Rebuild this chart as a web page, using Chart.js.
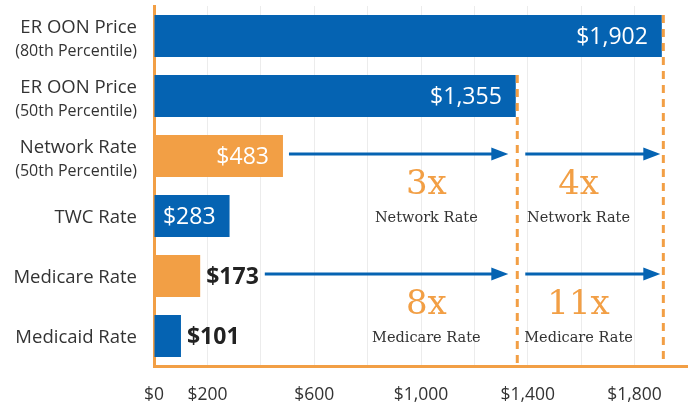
<!DOCTYPE html>
<html><head><meta charset="utf-8">
<script src="https://cdn.jsdelivr.net/npm/chart.js@4.4.1/dist/chart.umd.min.js"></script>
<style>html,body{margin:0;padding:0;background:#fff;}#wrap{width:688px;height:405px;position:relative;}</style>
</head><body><div id="wrap"><canvas id="c" width="688" height="405"></canvas></div>
<script>
// ---- data ----
const categories = [
  ["ER OON Price", "(80th Percentile)"],
  ["ER OON Price", "(50th Percentile)"],
  ["Network Rate", "(50th Percentile)"],
  ["TWC Rate"],
  ["Medicare Rate"],
  ["Medicaid Rate"]
];
const values = [1902, 1355, 483, 283, 173, 101];
const valueLabels = ["$1,902", "$1,355", "$483", "$283", "$173", "$101"];
const tickValues = [0, 200, 600, 1000, 1400, 1800];
const tickLabels = ["$0", "$200", "$600", "$1,000", "$1,400", "$1,800"];
// comparison baselines and multipliers (vs 50th percentile, vs 80th percentile)
const multiplierBases = ["Network Rate", "Medicare Rate"];
const multipliersVs50th = ["3x", "8x"];
const multipliersVs80th = ["4x", "11x"];
const multiplierCaptions = ["Network Rate", "Medicare Rate"];

// ---- styles ----
const BLUE = '#0563b2', ORANGE = '#f29f45', TEXT = '#333333';
const SANS = '"Open Sans", "Noto Sans", sans-serif';
const SLAB = '"DejaVu Serif", serif';

const rowName = i => categories[i][0];
const isBase = i => multiplierBases.includes(rowName(i));

function drawArrow(ctx, x1, x2, y) {
  ctx.save();
  ctx.strokeStyle = BLUE; ctx.fillStyle = BLUE; ctx.lineWidth = 3;
  ctx.beginPath(); ctx.moveTo(x1, y); ctx.lineTo(x2 - 12, y); ctx.stroke();
  ctx.beginPath(); ctx.moveTo(x2, y); ctx.lineTo(x2 - 17, y - 6.5); ctx.lineTo(x2 - 17, y + 6.5); ctx.closePath(); ctx.fill();
  ctx.restore();
}

const annotations = {
  id: 'annotations',
  afterDatasetsDraw(chart) {
    const ctx = chart.ctx, xs = chart.scales.x, area = chart.chartArea;
    const bars = chart.getDatasetMeta(0).data;
    const labelEnd = [];
    bars.forEach((b, i) => {
      ctx.save();
      ctx.textBaseline = 'middle';
      ctx.font = '400 23px ' + SANS;
      const w = ctx.measureText(valueLabels[i]).width;
      const barLen = b.x - b.base;
      if (barLen > w + 20) {
        ctx.fillStyle = '#ffffff'; ctx.textAlign = 'right';
        ctx.fillText(valueLabels[i], b.x - 14, b.y + 1);
        labelEnd[i] = b.x;
      } else {
        ctx.font = '700 23px ' + SANS;
        const wb = ctx.measureText(valueLabels[i]).width;
        ctx.fillStyle = '#222222'; ctx.textAlign = 'left';
        ctx.fillText(valueLabels[i], b.x + 6, b.y + 1);
        labelEnd[i] = b.x + 6 + wb;
      }
      ctx.restore();
    });
    const refRows = [0, 1];
    ctx.save();
    ctx.strokeStyle = ORANGE; ctx.lineWidth = 3; ctx.setLineDash([8, 6]);
    refRows.forEach(i => {
      const b = bars[i];
      const x = b.x + 1.5;
      ctx.beginPath(); ctx.moveTo(x, b.y - b.height / 2); ctx.lineTo(x, area.bottom); ctx.stroke();
    });
    ctx.restore();
    const d80 = bars[0].x + 1.5, d50 = bars[1].x + 1.5;
    const leftX = xs.getPixelForValue(1020), rightX = xs.getPixelForValue(1590);
    multiplierBases.forEach((name, k) => {
      const i = categories.findIndex(c => c[0] === name);
      const y = bars[i].y - 2;
      drawArrow(ctx, labelEnd[i] + 6, d50 - 9, y);
      drawArrow(ctx, d50 + 8, d80 - 3, y);
      const next = bars[i + 1].y;
      const my = (bars[i].y + next) / 2 - 1;
      ctx.save();
      ctx.textAlign = 'center'; ctx.textBaseline = 'middle';
      ctx.fillStyle = ORANGE; ctx.font = '400 34px ' + SLAB;
      ctx.fillText(multipliersVs50th[k], leftX, my);
      ctx.fillText(multipliersVs80th[k], rightX, my);
      ctx.fillStyle = TEXT; ctx.font = '400 14.5px ' + SLAB;
      ctx.fillText(multiplierCaptions[k], leftX, next + 2);
      ctx.fillText(multiplierCaptions[k], rightX, next + 2);
      ctx.restore();
    });
  },
  afterDraw(chart) {
    const ctx = chart.ctx, ys = chart.scales.y, area = chart.chartArea;
    const x = area.left - 17;
    ctx.save();
    ctx.fillStyle = TEXT; ctx.textAlign = 'right'; ctx.textBaseline = 'alphabetic';
    categories.forEach((c, i) => {
      const cy = ys.getPixelForTick(i);
      ctx.font = '400 18.5px ' + SANS;
      if (c.length === 1) {
        ctx.fillText(c[0], x, cy + 6.5);
      } else {
        ctx.fillText(c[0], x, cy - 3);
        ctx.font = '400 16px ' + SANS;
        ctx.fillText(c[1], x, cy + 20);
      }
    });
    ctx.restore();
  }
};

new Chart(document.getElementById('c'), {
  type: 'bar',
  data: {
    labels: categories.map(c => c.join(' ')),
    datasets: [{
      data: values,
      backgroundColor: ctx => isBase(ctx.dataIndex) ? ORANGE : BLUE,
      borderWidth: 0,
      barPercentage: 0.7,
      categoryPercentage: 1
    }]
  },
  options: {
    indexAxis: 'y',
    responsive: false,
    animation: false,
    devicePixelRatio: 1,
    layout: { padding: { top: 6, right: 0, bottom: 0, left: 0 } },
    plugins: { legend: { display: false }, tooltip: { enabled: false } },
    scales: {
      x: {
        min: 0, max: 2000,
        grid: { color: '#ececec', lineWidth: 1, drawTicks: false },
        border: { display: true, color: ORANGE, width: 3 },
        ticks: {
          stepSize: 200, autoSkip: false, maxRotation: 0, padding: 19,
          color: TEXT, font: { family: SANS, size: 17.5 },
          callback: v => { const i = tickValues.indexOf(v); return i >= 0 ? tickLabels[i] : ''; }
        },
        afterFit: s => { s.paddingLeft = 0; s.paddingRight = 0; s.height = 39; }
      },
      y: {
        grid: { display: false, drawTicks: false },
        border: { display: true, color: ORANGE, width: 3 },
        ticks: { display: false },
        afterFit: s => { s.width = 154; s.paddingTop = 0; s.paddingBottom = 0; }
      }
    }
  },
  plugins: [annotations]
});
</script>
</body></html>
